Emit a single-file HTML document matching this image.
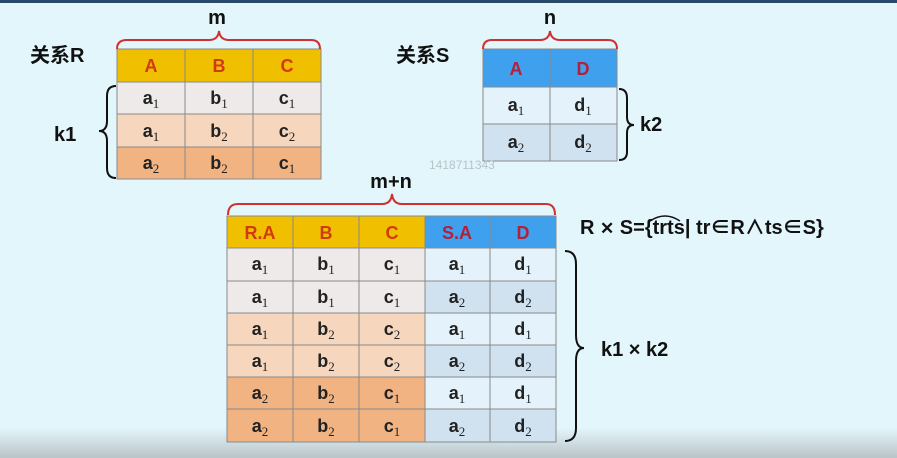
<!DOCTYPE html>
<html><head><meta charset="utf-8"><style>
html,body{margin:0;padding:0;width:897px;height:458px;overflow:hidden;background:#e2f6fb}
svg{display:block}
text{font-family:"Liberation Sans","Noto Sans CJK SC",sans-serif;font-weight:bold}
.c{font-size:18px;fill:#222;text-anchor:middle}
.s{font-family:"Liberation Serif",serif;font-size:13px;font-weight:normal}
.h{font-size:18px;fill:#d23a12;text-anchor:middle}
.hs{font-size:18px;fill:#b3203a;text-anchor:middle}
.l{font-size:20px;fill:#111}
</style></head><body>
<svg width="897" height="458" viewBox="0 0 897 458">
<defs><linearGradient id="bt" x1="0" y1="0" x2="0" y2="1"><stop offset="0" stop-color="#e2f6fb"/><stop offset="1" stop-color="#b9c4c8"/></linearGradient></defs>
<rect x="0" y="0" width="897" height="3" fill="#2a4a6a"/>
<rect x="0" y="428" width="897" height="30" fill="url(#bt)"/>
<g stroke="#8a8a8a" stroke-width="1">
<rect x="117" y="49" width="204" height="33" fill="#f0c000"/>
<rect x="117" y="82" width="204" height="32" fill="#efeaea"/>
<rect x="117" y="114" width="204" height="33" fill="#f6d6bd"/>
<rect x="117" y="147" width="204" height="32" fill="#f2b383"/>
<line x1="185" y1="49" x2="185" y2="179"/><line x1="253" y1="49" x2="253" y2="179"/>
<rect x="483" y="49" width="134" height="38" fill="#3fa0ee"/>
<rect x="483" y="87" width="134" height="37" fill="#e4f3fb"/>
<rect x="483" y="124" width="134" height="37" fill="#d0e1ef"/>
<line x1="550" y1="49" x2="550" y2="161"/>
<rect x="227" y="216" width="198" height="32" fill="#f0c000"/>
<rect x="425" y="216" width="131" height="32" fill="#3fa0ee"/>
<rect x="227" y="248" width="198" height="65" fill="#efeaea"/>
<rect x="227" y="313" width="198" height="64" fill="#f6d6bd"/>
<rect x="227" y="377" width="198" height="65" fill="#f2b383"/>
<rect x="425" y="248" width="131" height="33" fill="#e4f3fb"/>
<rect x="425" y="281" width="131" height="32" fill="#d0e1ef"/>
<rect x="425" y="313" width="131" height="32" fill="#e4f3fb"/>
<rect x="425" y="345" width="131" height="32" fill="#d0e1ef"/>
<rect x="425" y="377" width="131" height="32" fill="#e4f3fb"/>
<rect x="425" y="409" width="131" height="33" fill="#d0e1ef"/>
<line x1="227" y1="281" x2="556" y2="281"/><line x1="227" y1="345" x2="556" y2="345"/><line x1="227" y1="409" x2="556" y2="409"/>
<line x1="293" y1="216" x2="293" y2="442"/><line x1="359" y1="216" x2="359" y2="442"/><line x1="490" y1="216" x2="490" y2="442"/>
</g>
<g fill="none" stroke="#d03030" stroke-width="2">
<path d="M117 49 Q117 40 127 40 L209 40 Q218 40 219 31 Q220 40 229 40 L311 40 Q320 40 320 49"/>
<path d="M483 49 Q483 40 492 40 L540 40 Q549 40 550 31 Q551 40 560 40 L608 40 Q617 40 617 49"/>
<path d="M228 215 Q228 204 238 204 L382 204 Q391 204 392 194 Q393 204 402 204 L546 204 Q555 204 555 215"/>
</g>
<g fill="none" stroke="#111" stroke-width="2">
<path d="M116 86 Q107 86 107 96 L107 121 Q107 131 99 131 Q107 131 107 141 L107 168 Q107 178 116 178"/>
<path d="M619 89 Q627 89 627 98 L627 117 Q627 125 634 125 Q627 125 627 133 L627 152 Q627 160 619 160"/>
<path d="M565 251 Q576 251 576 264 L576 335 Q576 348 584 348 Q576 348 576 361 L576 428 Q576 441 565 441"/>
</g>
<text x="217" y="24" class="l" text-anchor="middle">m</text>
<text x="550" y="24" class="l" text-anchor="middle">n</text>
<text x="391" y="188" class="l" text-anchor="middle">m+n</text>
<text x="30" y="62" class="l">关系R</text>
<text x="396" y="62" class="l">关系S</text>
<text x="54" y="141" class="l">k1</text>
<text x="640" y="131" class="l">k2</text>
<text x="601" y="356" class="l">k1 × k2</text>
<text x="580" y="234" class="l">R <tspan font-size="17">✕</tspan> S={trts| tr∈R∧ts∈S}</text>
<path d="M650 221 Q665 211 680 221" fill="none" stroke="#111" stroke-width="1.5"/>
<text x="429" y="169" font-size="12" fill="#b8c4c8" style="font-weight:normal">1418711343</text>
<text x="151" y="72" class="h">A</text><text x="219" y="72" class="h">B</text><text x="287" y="72" class="h">C</text>
<text x="151" y="104" class="c">a<tspan class="s" dy="4">1</tspan></text><text x="219" y="104" class="c">b<tspan class="s" dy="4">1</tspan></text><text x="287" y="104" class="c">c<tspan class="s" dy="4">1</tspan></text>
<text x="151" y="137" class="c">a<tspan class="s" dy="4">1</tspan></text><text x="219" y="137" class="c">b<tspan class="s" dy="4">2</tspan></text><text x="287" y="137" class="c">c<tspan class="s" dy="4">2</tspan></text>
<text x="151" y="169" class="c">a<tspan class="s" dy="4">2</tspan></text><text x="219" y="169" class="c">b<tspan class="s" dy="4">2</tspan></text><text x="287" y="169" class="c">c<tspan class="s" dy="4">1</tspan></text>
<text x="516" y="75" class="hs">A</text><text x="583" y="75" class="hs">D</text>
<text x="516" y="111" class="c">a<tspan class="s" dy="4">1</tspan></text><text x="583" y="111" class="c">d<tspan class="s" dy="4">1</tspan></text>
<text x="516" y="148" class="c">a<tspan class="s" dy="4">2</tspan></text><text x="583" y="148" class="c">d<tspan class="s" dy="4">2</tspan></text>
<text x="260" y="239" class="h">R.A</text><text x="326" y="239" class="h">B</text><text x="392" y="239" class="h">C</text><text x="457" y="239" class="hs">S.A</text><text x="523" y="239" class="hs">D</text>
<text x="260" y="270" class="c">a<tspan class="s" dy="4">1</tspan></text><text x="326" y="270" class="c">b<tspan class="s" dy="4">1</tspan></text><text x="392" y="270" class="c">c<tspan class="s" dy="4">1</tspan></text><text x="457" y="270" class="c">a<tspan class="s" dy="4">1</tspan></text><text x="523" y="270" class="c">d<tspan class="s" dy="4">1</tspan></text>
<text x="260" y="303" class="c">a<tspan class="s" dy="4">1</tspan></text><text x="326" y="303" class="c">b<tspan class="s" dy="4">1</tspan></text><text x="392" y="303" class="c">c<tspan class="s" dy="4">1</tspan></text><text x="457" y="303" class="c">a<tspan class="s" dy="4">2</tspan></text><text x="523" y="303" class="c">d<tspan class="s" dy="4">2</tspan></text>
<text x="260" y="335" class="c">a<tspan class="s" dy="4">1</tspan></text><text x="326" y="335" class="c">b<tspan class="s" dy="4">2</tspan></text><text x="392" y="335" class="c">c<tspan class="s" dy="4">2</tspan></text><text x="457" y="335" class="c">a<tspan class="s" dy="4">1</tspan></text><text x="523" y="335" class="c">d<tspan class="s" dy="4">1</tspan></text>
<text x="260" y="367" class="c">a<tspan class="s" dy="4">1</tspan></text><text x="326" y="367" class="c">b<tspan class="s" dy="4">2</tspan></text><text x="392" y="367" class="c">c<tspan class="s" dy="4">2</tspan></text><text x="457" y="367" class="c">a<tspan class="s" dy="4">2</tspan></text><text x="523" y="367" class="c">d<tspan class="s" dy="4">2</tspan></text>
<text x="260" y="399" class="c">a<tspan class="s" dy="4">2</tspan></text><text x="326" y="399" class="c">b<tspan class="s" dy="4">2</tspan></text><text x="392" y="399" class="c">c<tspan class="s" dy="4">1</tspan></text><text x="457" y="399" class="c">a<tspan class="s" dy="4">1</tspan></text><text x="523" y="399" class="c">d<tspan class="s" dy="4">1</tspan></text>
<text x="260" y="432" class="c">a<tspan class="s" dy="4">2</tspan></text><text x="326" y="432" class="c">b<tspan class="s" dy="4">2</tspan></text><text x="392" y="432" class="c">c<tspan class="s" dy="4">1</tspan></text><text x="457" y="432" class="c">a<tspan class="s" dy="4">2</tspan></text><text x="523" y="432" class="c">d<tspan class="s" dy="4">2</tspan></text>
</svg>
</body></html>
